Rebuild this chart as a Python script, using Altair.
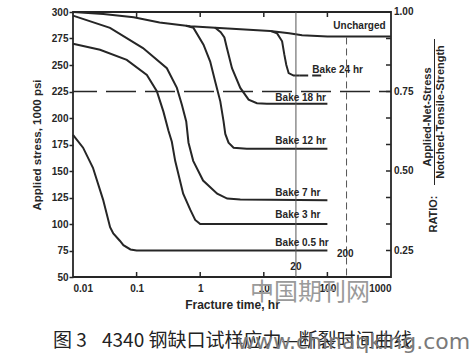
import altair as alt
import pandas as pd

W, H = 318, 265

# ---- data ----
unch_t = [0.01, 0.03, 0.09, 0.23, 0.7, 2, 12.6, 25, 40, 100, 1000]
unch_s = [300, 298, 295, 290, 286.5, 285, 282, 280, 278, 277, 277]

b24_t = [13, 16.1, 19.4, 21, 22.6, 24.6, 29.4, 36]
b24_s = [282, 280, 272.4, 260, 250, 242.3, 240, 240]
b24_dash_t = [36, 92]
b24_dash_s = [240, 240]

b18_t = [1.7, 2.1, 2.4, 2.63, 3.16, 4.27, 5.77, 7.8, 11.2, 100]
b18_s = [285.3, 281, 276, 266, 247, 228.4, 217.3, 214, 213.5, 213.5]

b12_t = [0.6, 0.784, 1.127, 1.436, 1.72, 2.07, 2.33, 2.48, 2.79, 3.35, 5.4, 100]
b12_s = [287, 285, 269.2, 253.2, 234.5, 215.7, 196.8, 185, 176.7, 172, 171, 171]

b7_t = [0.01, 0.0382, 0.126, 0.299, 0.43, 0.515, 0.603, 0.655, 0.776, 1.11, 1.85, 2.66, 4.27, 100]
b7_s = [296.6, 285, 266, 247, 228.4, 212.5, 196.8, 176.7, 159.6, 141, 128.6, 124, 123, 122.5]

b3_t = [0.01, 0.0266, 0.07, 0.145, 0.208, 0.264, 0.317, 0.358, 0.404, 0.54, 0.697, 0.834, 1.0, 100]
b3_s = [270, 264.4, 254.8, 240.7, 225.3, 206, 188, 177.6, 159.6, 128.6, 113.5, 103.8, 100, 100]

b05_t = [0.01, 0.0144, 0.0206, 0.0297, 0.0383, 0.043, 0.0549, 0.062, 0.08, 0.1, 100]
b05_s = [184, 172, 153, 123, 97, 91, 84, 80, 76, 75, 75]

ratio_line_s = [225]
vline20_t = [32]
vline200_t = [200]

x_tick_values = [0.01, 0.1, 1, 10, 100, 1000]
x_inner_ticks = [0.1, 1, 10, 100]
y_tick_values = [50, 75, 100, 125, 150, 175, 200, 225, 250, 275, 300]
right_tick_s = [75, 100, 125, 150, 175, 200, 225, 250, 275, 300]
ratio_labels = [0.25, 0.5, 0.75, 1.0]

curve_labels = ["Uncharged", "Bake 24 hr", "Bake 18 hr", "Bake 12 hr", "Bake 7 hr", "Bake 3 hr", "Bake 0.5 hr"]
curve_label_t = [124, 58, 15.2, 15.2, 15.2, 15.2, 15.2]
curve_label_s = [287, 245.4, 219.2, 178.4, 129.5, 108.7, 81.7]

time_marks = ["20", "200"]
time_mark_t = [32, 191]
time_mark_s = [59.5, 72]

# ---- tables ----
def frame(name, t, s):
    return pd.DataFrame({"series": name, "t": t, "s": s})

curves = pd.concat([
    frame("Uncharged", unch_t, unch_s),
    frame("Bake 24 hr", b24_t, b24_s),
    frame("Bake 18 hr", b18_t, b18_s),
    frame("Bake 12 hr", b12_t, b12_s),
    frame("Bake 7 hr", b7_t, b7_s),
    frame("Bake 3 hr", b3_t, b3_s),
    frame("Bake 0.5 hr", b05_t, b05_s),
], ignore_index=True)

INK = "#262626"
FONT = "Liberation Sans"

xs = alt.Scale(type="log", domain=[0.01, 1000])
ys = alt.Scale(domain=[50, 300], nice=False, zero=False)

x_axis = alt.Axis(
    values=x_tick_values, title="Fracture time, hr", tickSize=0, labelPadding=6,
    domain=False, grid=False,
    labelExpr="datum.value < 1 ? format(datum.value, '.2~f') : format(datum.value, 'd')",
    labelFont=FONT, labelFontWeight="bold", labelFontSize=10, labelColor=INK,
    titleFont=FONT, titleFontWeight="bold", titleFontSize=12, titleColor=INK, titlePadding=6,
)
y_axis = alt.Axis(
    values=y_tick_values, title="Applied stress, 1000 psi", tickSize=4, tickWidth=1.5,
    tickColor=INK, labelPadding=1, domain=False, grid=False,
    labelFont=FONT, labelFontWeight="bold", labelFontSize=10, labelColor=INK,
    titleFont=FONT, titleFontWeight="bold", titleFontSize=11.5, titleColor=INK, titlePadding=9,
)

X = alt.X("t:Q", scale=xs, axis=x_axis)
Y = alt.Y("s:Q", scale=ys, axis=y_axis)

lines = alt.Chart(curves).mark_line(color=INK, strokeWidth=2).encode(x=X, y=Y, detail="series:N")

dash24 = alt.Chart(frame("Bake 24 hr dash", b24_dash_t, b24_dash_s)).mark_line(
    color=INK, strokeWidth=2, strokeDash=[9, 4]
).encode(x=X, y=Y)

hline = alt.Chart(pd.DataFrame({"s": ratio_line_s})).mark_rule(
    color=INK, strokeWidth=1.3, strokeDash=[30, 9], strokeDashOffset=18
).encode(y=Y)

v20 = alt.Chart(pd.DataFrame({"t": vline20_t})).mark_rule(color="#555", strokeWidth=1).encode(x=X)
v200 = alt.Chart(pd.DataFrame({"t": vline200_t, "s": [276], "s2": [50]})).mark_rule(
    color="#555", strokeWidth=1, strokeDash=[7, 4]
).encode(x=X, y=Y, y2="s2:Q")

top_ticks = alt.Chart(pd.DataFrame({"t": x_inner_ticks})).mark_rule(color=INK, strokeWidth=1.5).encode(
    x=X, y=alt.value(0), y2=alt.value(5)
)
bot_ticks = alt.Chart(pd.DataFrame({"t": x_inner_ticks})).mark_rule(color=INK, strokeWidth=1.5).encode(
    x=X, y=alt.value(H - 5), y2=alt.value(H)
)
right_ticks = alt.Chart(pd.DataFrame({"s": right_tick_s})).mark_rule(color=INK, strokeWidth=1.5).encode(
    y=Y, x=alt.value(W - 5), x2=alt.value(W)
)
right_labels = alt.Chart(pd.DataFrame({"r": ratio_labels})).transform_calculate(
    s="datum.r * 300", lab="format(datum.r, '.2f')"
).mark_text(align="left", baseline="middle", font=FONT, fontWeight="bold", fontSize=10, color=INK).encode(
    y=Y, x=alt.value(W + 3), text="lab:N"
)

lab_df = pd.DataFrame({"label": curve_labels, "t": curve_label_t, "s": curve_label_s})
labels = alt.Chart(lab_df).mark_text(
    align="left", baseline="middle", font=FONT, fontWeight="bold", fontSize=10, color=INK
).encode(x=X, y=Y, text="label:N")

tm_df = pd.DataFrame({"label": time_marks, "t": time_mark_t, "s": time_mark_s})
tmarks = alt.Chart(tm_df).mark_text(
    align="center", baseline="middle", font=FONT, fontWeight="bold", fontSize=10, color=INK
).encode(x=X, y=Y, text="label:N")


def free_text(txt, x, y, angle=0, size=11, weight="bold", font=FONT, color=INK, align="center"):
    props = dict(align=align, baseline="middle", font=font, fontSize=size, fontWeight=weight, color=color)
    if angle:
        props["angle"] = angle
    return alt.Chart(pd.DataFrame({"txt": [txt]})).mark_text(**props).encode(
        x=alt.value(x), y=alt.value(y), text="txt:N"
    )

# right side ratio title (fraction)
r_num = free_text("Applied-Net-Stress", 355, 105, angle=270, size=11)
r_den = free_text("Notched-Tensile-Strength", 368, 100, angle=270, size=11)
r_bar = alt.Chart(pd.DataFrame({"a": [0]})).mark_rule(color=INK, strokeWidth=1).encode(
    x=alt.value(361.5), y=alt.value(27), y2=alt.value(173)
)
r_ratio = free_text("RATIO:", 361, 202, angle=270, size=11)

# watermark and caption
wm1 = free_text("中国期刊网", 177, 281, size=24, weight="normal", font="Noto Sans CJK SC",
                color="#9a9a9a", align="left")
cap1 = free_text("图 3", -20, 329, size=19, weight="normal", font="Noto Sans CJK SC", color="#222", align="left")
cap2 = free_text("4340 钢缺口试样应力—断裂时间曲线", 29, 329, size=19, weight="normal",
                 font="Noto Sans CJK SC", color="#222", align="left")
wm2 = free_text("www.chinaqking.com", 164, 330, size=22, weight="normal", font="DejaVu Sans",
                color="#7a7a7a", align="left")

chart = alt.layer(
    lines, hline, v20, v200, dash24, top_ticks, bot_ticks, right_ticks, right_labels,
    labels, tmarks, r_num, r_den, r_bar, r_ratio, wm1, cap1, cap2, wm2,
).properties(
    width=W, height=H,
    padding={"left": 73, "top": 12, "right": 476 - 73 - W, "bottom": 353 - 12 - H},
    autosize=alt.AutoSizeParams(type="none"),
    background="white",
).configure_view(stroke=INK, strokeWidth=1.8)

chart.save("out.html", embed_options={"renderer": "svg", "actions": False})
